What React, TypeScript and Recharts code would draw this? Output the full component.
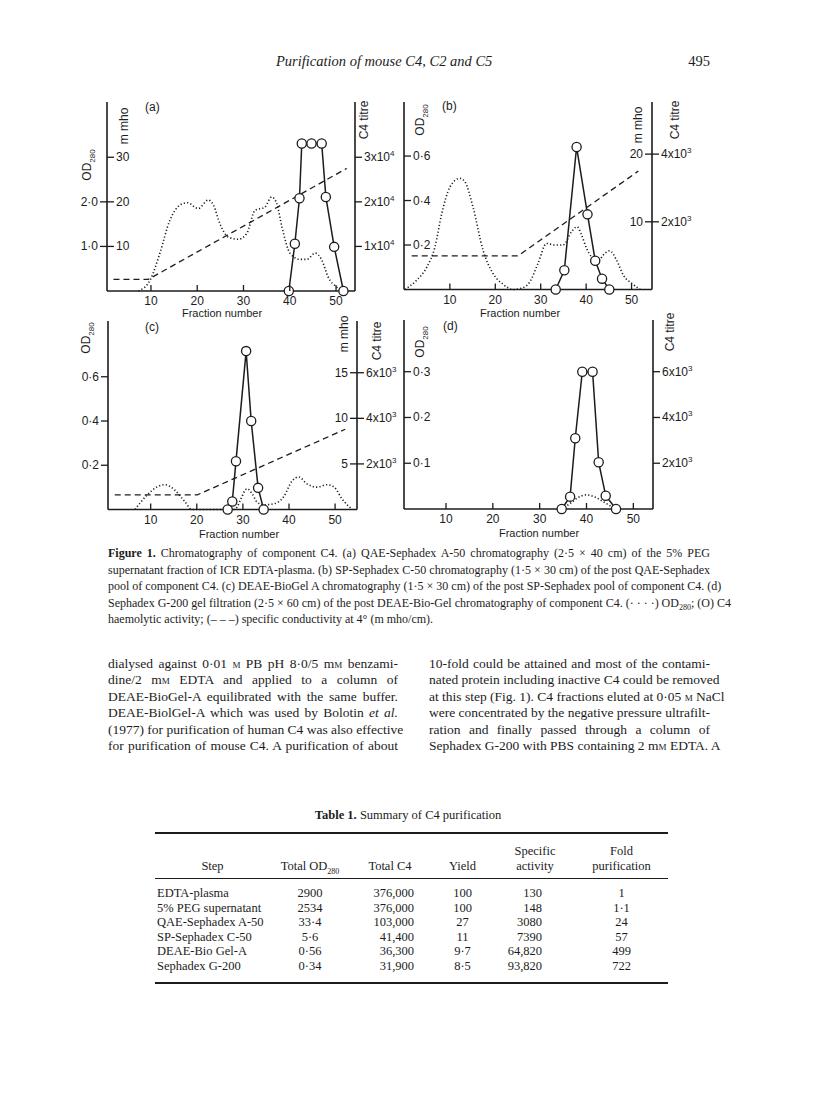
import React from "react"
import { ComposedChart, Line, XAxis, YAxis } from "recharts"

// [fraction number, value] pairs

// (a) QAE-Sephadex A-50
const aOd: [number, number][] = [
  [7.3, 0], [9.8, 0.24], [11.9, 0.84], [14.1, 1.59], [16.3, 1.93], [17.9, 1.98],
  [20.2, 1.85], [22.4, 2.04], [23.5, 1.93], [24.9, 1.51], [26.7, 1.21], [28.9, 1.16],
  [30.7, 1.29], [32.5, 1.81], [34.6, 1.88], [36.1, 2.11], [37.2, 1.96], [38.3, 1.44],
  [40.1, 0.84], [42.2, 0.71], [43.7, 0.71], [45.5, 0.85], [46.9, 0.7], [48.3, 0.31],
  [50.1, 0.09], [51.2, 0],
]
const aTitre: [number, number][] = [
  [39.8, 0], [41.1, 1.06], [42.1, 2.08], [42.6, 3.31], [44.7, 3.31], [46.9, 3.31],
  [47.8, 2.11], [49.6, 0.99], [51.6, 0],
] // x10^4
const aMmho: [number, number][] = [[1.9, 2.6], [9.4, 2.6], [52.3, 27.5]]

// (b) SP-Sephadex C-50
const bOd: [number, number][] = [
  [0.1, 0], [2.7, 0.042], [4.9, 0.1], [6.7, 0.19], [8.2, 0.34], [10, 0.46], [12.2, 0.5],
  [13.3, 0.485], [15.1, 0.37], [17.3, 0.177], [19.5, 0.072], [21.7, 0.024], [23.9, 0],
  [25.7, 0.005], [27.6, 0.034], [29.4, 0.117], [31.3, 0.207], [33.1, 0.2], [34.9, 0.2],
  [36.8, 0.26], [38, 0.282], [38.9, 0.25], [40.1, 0.185], [41.2, 0.147], [42.7, 0.132],
  [44.1, 0.162], [45.2, 0.174], [46.7, 0.132], [48.2, 0.064], [50.1, 0.027], [51.9, 0],
]
const bTitre: [number, number][] = [
  [33.3, 0], [35.2, 0.57], [37.9, 4.21], [40.3, 2.22], [42, 0.85], [43.5, 0.32], [45.1, 0],
] // x10^3
const bMmho: [number, number][] = [[1.6, 4.96], [25, 4.96], [51.5, 17.5]]

// (c) DEAE-BioGel A
const cOd: [number, number][] = [
  [6.6, 0], [9.1, 0.063], [11.3, 0.101], [13.1, 0.112], [15.3, 0.086], [17.5, 0.033],
  [18.9, 0], [28, 0], [28.7, 0.01], [29.4, 0.04], [30.9, 0.094], [32, 0.071], [33.1, 0.033],
  [34.5, 0.021], [36.7, 0.026], [38.8, 0.056], [40.7, 0.13], [42.1, 0.147], [43.9, 0.116],
  [46.1, 0.101], [48.3, 0.112], [49.8, 0.101], [51.5, 0.048], [53.7, 0],
]
const cTitre: [number, number][] = [
  [26.7, 0], [27.7, 0.35], [28.5, 2.12], [30.7, 6.95], [31.8, 3.88], [33.3, 0.95], [34.5, 0],
] // x10^3
const cMmho: [number, number][] = [[2.2, 1.6], [20.1, 1.6], [52.2, 8.8]]

// (d) Sephadex G-200
const dOd: [number, number][] = [
  [34.7, 0], [36.5, 0.012], [37.9, 0.023], [40, 0.031], [41.8, 0.026], [43.6, 0.016],
  [45.4, 0.005], [46.3, 0],
]
const dTitre: [number, number][] = [
  [34.7, 0], [36.5, 0.54], [37.6, 3.09], [39.1, 6], [41.3, 6], [42.6, 2.04], [44.1, 0.58],
  [46.3, 0],
] // x10^3

const fractionTicks = [10, 20, 30, 40, 50]

const ink = "#1c1c1c"
const figFont = "'Liberation Sans', Arial, sans-serif"
const pageFont = "'Liberation Serif', 'Times New Roman', serif"

// series are drawn on the panel's two printed axes; k converts to that axis' unit
const pts = (arr: [number, number][], k = 1) => arr.map(([f, v]) => ({ f, v: v * k }))

interface TickSpec {
  values: number[]
  inner?: string[]
  outer?: string[]
  sup?: string
}

interface Series {
  data: [number, number][]
  axis: "left" | "right"
  k: number
}

interface PanelSpec {
  box: { l: number; t: number; r: number; b: number }
  xDomain: [number, number]
  leftMax: number
  rightMax: number
  left: TickSpec
  right: TickSpec
  od: Series
  titre: Series
  mmho?: Series
}

const XTick = ({ x, y, payload }: any) => (
  <g>
    <line x1={x} y1={y} x2={x} y2={y - 6} stroke={ink} strokeWidth={1.3} />
    <text x={x} y={y + 14} textAnchor="middle" fontSize={12} fill={ink} fontFamily={figFont}>
      {payload.value}
    </text>
  </g>
)

function makeYTick(side: "left" | "right", spec: TickSpec) {
  return ({ x, y, payload }: any) => {
    const i = spec.values.findIndex((v) => Math.abs(v - payload.value) < 1e-9)
    const dir = side === "left" ? 1 : -1 // +1 points into the plot
    const inLabel = spec.inner ? spec.inner[i] : ""
    const outLabel = spec.outer ? spec.outer[i] : ""
    const x1 = outLabel ? x - dir * 7 : x
    const x2 = inLabel ? x + dir * 7 : x
    return (
      <g fontFamily={figFont} fontSize={12} fill={ink}>
        <line x1={x1} y1={y} x2={x2} y2={y} stroke={ink} strokeWidth={1.3} />
        {inLabel && (
          <text x={x + dir * 9} y={y + 4} textAnchor={side === "left" ? "start" : "end"}>
            {inLabel}
          </text>
        )}
        {outLabel && (
          <text x={x - dir * 9} y={y + 4} textAnchor={side === "left" ? "end" : "start"}>
            {outLabel}
            {spec.sup && (
              <tspan dy={-5} fontSize={8}>
                {spec.sup}
              </tspan>
            )}
          </text>
        )}
      </g>
    )
  }
}

const panels: PanelSpec[] = [
  {
    // left axis in m mho (OD280 = m mho / 10), right C4 titre x10^4
    box: { l: 107, t: 102, r: 355, b: 291 },
    xDomain: [0.5, 54.1],
    leftMax: 42.4,
    rightMax: 4.24,
    left: { values: [10, 20, 30], inner: ["10", "20", "30"], outer: ["1·0", "2·0", ""] },
    right: { values: [1, 2, 3], outer: ["1x10", "2x10", "3x10"], sup: "4" },
    od: { data: aOd, axis: "left", k: 10 },
    titre: { data: aTitre, axis: "right", k: 1 },
    mmho: { data: aMmho, axis: "left", k: 1 },
  },
  {
    // left OD280, right C4 titre x10^3 (m mho = titre x 5)
    box: { l: 404, t: 102, r: 652, b: 289.5 },
    xDomain: [-0.1, 54.5],
    leftMax: 0.843,
    rightMax: 5.54,
    left: { values: [0.2, 0.4, 0.6], inner: ["0·2", "0·4", "0·6"] },
    right: { values: [2, 4], inner: ["10", "20"], outer: ["2x10", "4x10"], sup: "3" },
    od: { data: bOd, axis: "left", k: 1 },
    titre: { data: bTitre, axis: "right", k: 1 },
    mmho: { data: bMmho, axis: "right", k: 0.2 },
  },
  {
    // left OD280, right C4 titre x10^3 (m mho = titre x 2.5)
    box: { l: 108, t: 321, r: 357, b: 509.5 },
    xDomain: [0.74, 54.75],
    leftMax: 0.852,
    rightMax: 8.27,
    left: { values: [0.2, 0.4, 0.6], outer: ["0·2", "0·4", "0·6"] },
    right: { values: [2, 4, 6], inner: ["5", "10", "15"], outer: ["2x10", "4x10", "6x10"], sup: "3" },
    od: { data: cOd, axis: "left", k: 1 },
    titre: { data: cTitre, axis: "right", k: 1 },
    mmho: { data: cMmho, axis: "right", k: 0.4 },
  },
  {
    box: { l: 404, t: 320, r: 653, b: 509 },
    xDomain: [1.03, 54.2],
    leftMax: 0.413,
    rightMax: 8.26,
    left: { values: [0.1, 0.2, 0.3], inner: ["0·1", "0·2", "0·3"] },
    right: { values: [2, 4, 6], outer: ["2x10", "4x10", "6x10"], sup: "3" },
    od: { data: dOd, axis: "left", k: 1 },
    titre: { data: dTitre, axis: "right", k: 1 },
  },
]

const axisLine = { stroke: ink, strokeWidth: 1.6 }

function Panel({ spec }: { spec: PanelSpec }) {
  const { l, t, r, b } = spec.box
  // outer room around the plot box; each visible axis takes 1px of it
  const room = { top: 12, right: 60, bottom: 36, left: 50 }
  const m = { top: room.top, right: room.right - 1, bottom: room.bottom - 1, left: room.left - 1 }
  const w = r - l + room.left + room.right
  const h = b - t + room.top + room.bottom
  return (
    <div style={{ position: "absolute", left: l - room.left, top: t - room.top }}>
      <ComposedChart width={w} height={h} margin={m}>
        <XAxis
          type="number"
          dataKey="f"
          domain={spec.xDomain}
          ticks={fractionTicks}
          interval={0}
          height={1}
          tickSize={0}
          tickMargin={0}
          tickLine={false}
          axisLine={axisLine}
          tick={XTick}
        />
        <YAxis
          yAxisId="left"
          type="number"
          domain={[0, spec.leftMax]}
          ticks={spec.left.values}
          interval={0}
          width={1}
          tickSize={0}
          tickMargin={0}
          tickLine={false}
          axisLine={axisLine}
          tick={makeYTick("left", spec.left)}
        />
        <YAxis
          yAxisId="right"
          orientation="right"
          type="number"
          domain={[0, spec.rightMax]}
          ticks={spec.right.values}
          interval={0}
          width={1}
          tickSize={0}
          tickMargin={0}
          tickLine={false}
          axisLine={axisLine}
          tick={makeYTick("right", spec.right)}
        />
        {spec.mmho && (
          <Line
            yAxisId={spec.mmho.axis}
            data={pts(spec.mmho.data, spec.mmho.k)}
            dataKey="v"
            type="linear"
            stroke={ink}
            strokeWidth={1.3}
            strokeDasharray="6 4"
            dot={false}
            isAnimationActive={false}
          />
        )}
        <Line
          yAxisId={spec.od.axis}
          data={pts(spec.od.data, spec.od.k)}
          dataKey="v"
          type="monotone"
          stroke={ink}
          strokeWidth={1.6}
          strokeDasharray="1.2 2.2"
          dot={false}
          isAnimationActive={false}
        />
        <Line
          yAxisId={spec.titre.axis}
          data={pts(spec.titre.data, spec.titre.k)}
          dataKey="v"
          type="linear"
          stroke={ink}
          strokeWidth={1.5}
          dot={{ r: 4.6, fill: "#fff", stroke: ink, strokeWidth: 1.3 }}
          isAnimationActive={false}
        />
      </ComposedChart>
    </div>
  )
}

const OD = () => (
  <span>
    OD<sub style={{ fontSize: 8 }}>280</sub>
  </span>
)

function VLabel({ x, y, children }: { x: number; y: number; children: React.ReactNode }) {
  return (
    <div
      style={{
        position: "absolute",
        left: x,
        top: y,
        transform: "translate(-50%, -50%) rotate(-90deg)",
        whiteSpace: "nowrap",
        fontFamily: figFont,
        fontSize: 12,
        color: ink,
        lineHeight: "12px",
      }}
    >
      {children}
    </div>
  )
}

function Txt({ x, y, children, size = 12, center = false }: any) {
  return (
    <div
      style={{
        position: "absolute",
        left: x,
        top: y,
        transform: center ? "translate(-50%, -50%)" : "translate(0, -50%)",
        whiteSpace: "nowrap",
        fontFamily: figFont,
        fontSize: size,
        color: ink,
        lineHeight: "12px",
      }}
    >
      {children}
    </div>
  )
}

const SC = ({ children }: { children: React.ReactNode }) => (
  <span style={{ fontVariant: "small-caps" }}>{children}</span>
)

function JLine({ children, last = false }: { children: React.ReactNode; last?: boolean }) {
  return (
    <div style={{ textAlign: "justify", textAlignLast: last ? "left" : "justify", whiteSpace: "nowrap" }}>
      {children}
    </div>
  )
}

const tableCols = [115, 80, 80, 65, 80, 93]
const tableSteps = [
  "EDTA-plasma",
  "5% PEG supernatant",
  "QAE-Sephadex A-50",
  "SP-Sephadex C-50",
  "DEAE-Bio Gel-A",
  "Sephadex G-200",
]
const tableOd = ["2900", "2534", "33·4", "5·6", "0·56", "0·34"]
const tableC4 = ["376,000", "376,000", "103,000", "41,400", "36,300", "31,900"]
const tableYield = ["100", "100", "27", "11", "9·7", "8·5"]
const tableActivity = ["130", "148", "3080", "7390", "64,820", "93,820"]
const tableFold = ["1", "1·1", "24", "57", "499", "722"]

function Cell({ w, align, pad = 0, children }: any) {
  return (
    <div
      style={{
        width: w,
        textAlign: align,
        paddingLeft: align === "left" ? pad : 0,
        paddingRight: align === "right" ? pad : 0,
        boxSizing: "border-box",
        whiteSpace: "nowrap",
      }}
    >
      {children}
    </div>
  )
}

function Row({ y, cells, header = false }: { y: number; cells: React.ReactNode[]; header?: boolean }) {
  const aligns = header
    ? ["center", "center", "center", "center", "center", "center"]
    : ["left", "center", "right", "center", "right", "center"]
  const pads = [2, 0, 16, 0, 33, 0]
  return (
    <div style={{ position: "absolute", left: 155, top: y - 8, height: 16, display: "flex", lineHeight: "16px" }}>
      {cells.map((c, i) => (
        <Cell key={i} w={tableCols[i]} align={aligns[i]} pad={pads[i]}>
          {c}
        </Cell>
      ))}
    </div>
  )
}

export default function App() {
  return (
    <div
      style={{
        position: "absolute",
        left: 0,
        top: 0,
        width: 816,
        height: 1104,
        background: "#fff",
        color: ink,
        fontFamily: pageFont,
        overflow: "hidden",
      }}
    >
      {/* running head */}
      <div style={{ position: "absolute", left: 276, top: 53, fontSize: 14.5, fontStyle: "italic", whiteSpace: "nowrap" }}>
        Purification of mouse C4, C2 and C5
      </div>
      <div style={{ position: "absolute", right: 106, top: 53, fontSize: 14.5, whiteSpace: "nowrap" }}>495</div>

      {panels.map((p, i) => (
        <Panel key={i} spec={p} />
      ))}

      {/* axis titles and panel tags */}
      <VLabel x={90} y={165}><OD /></VLabel>
      <VLabel x={124} y={126}>m mho</VLabel>
      <VLabel x={364} y={120}>C4 titre</VLabel>
      <Txt x={145} y={107}>(a)</Txt>
      <Txt x={222} y={313} size={11} center>Fraction number</Txt>

      <VLabel x={423} y={120}><OD /></VLabel>
      <VLabel x={638} y={125}>m mho</VLabel>
      <VLabel x={675} y={120}>C4 titre</VLabel>
      <Txt x={442} y={106}>(b)</Txt>
      <Txt x={520} y={313} size={11} center>Fraction number</Txt>

      <VLabel x={89} y={338}><OD /></VLabel>
      <VLabel x={344} y={334}>m mho</VLabel>
      <VLabel x={377} y={341}>C4 titre</VLabel>
      <Txt x={145} y={327}>(c)</Txt>
      <Txt x={239} y={534} size={11} center>Fraction number</Txt>

      <VLabel x={423} y={342}><OD /></VLabel>
      <VLabel x={670} y={332}>C4 titre</VLabel>
      <Txt x={443} y={326}>(d)</Txt>
      <Txt x={539} y={533} size={11} center>Fraction number</Txt>

      {/* caption */}
      <div style={{ position: "absolute", left: 108, top: 545, width: 602, fontSize: 12, lineHeight: "16.5px" }}>
        <JLine>
          <b>Figure 1.</b> Chromatography of component C4. (a) QAE-Sephadex A-50 chromatography (2·5 × 40 cm) of the 5% PEG
        </JLine>
        <JLine>
          supernatant fraction of ICR EDTA-plasma. (b) SP-Sephadex C-50 chromatography (1·5 × 30 cm) of the post QAE-Sephadex
        </JLine>
        <JLine>
          pool of component C4. (c) DEAE-BioGel A chromatography (1·5 × 30 cm) of the post SP-Sephadex pool of component C4. (d)
        </JLine>
        <JLine>
          Sephadex G-200 gel filtration (2·5 × 60 cm) of the post DEAE-Bio-Gel chromatography of component C4. (· · · ·) OD
          <sub style={{ fontSize: 8, lineHeight: 0 }}>280</sub>; (O) C4
        </JLine>
        <JLine last>haemolytic activity; (– – –) specific conductivity at 4° (m mho/cm).</JLine>
      </div>

      {/* body text */}
      <div style={{ position: "absolute", left: 108, top: 656, width: 290, fontSize: 13.5, lineHeight: "16.4px" }}>
        <JLine>
          dialysed against 0·01 <SC>m</SC> PB pH 8·0/5 m<SC>m</SC> benzami-
        </JLine>
        <JLine>
          dine/2 m<SC>m</SC> EDTA and applied to a column of
        </JLine>
        <JLine>DEAE-BioGel-A equilibrated with the same buffer.</JLine>
        <JLine>
          DEAE-BiolGel-A which was used by Bolotin <i>et al.</i>
        </JLine>
        <JLine>(1977) for purification of human C4 was also effective</JLine>
        <JLine>for purification of mouse C4. A purification of about</JLine>
      </div>
      <div style={{ position: "absolute", left: 429, top: 656, width: 281, fontSize: 13.5, lineHeight: "16.4px" }}>
        <JLine>10-fold could be attained and most of the contami-</JLine>
        <JLine>nated protein including inactive C4 could be removed</JLine>
        <JLine>
          at this step (Fig. 1). C4 fractions eluted at 0·05 <SC>m</SC> NaCl
        </JLine>
        <JLine>were concentrated by the negative pressure ultrafilt-</JLine>
        <JLine>ration and finally passed through a column of</JLine>
        <JLine>
          Sephadex G-200 with PBS containing 2 m<SC>m</SC> EDTA. A
        </JLine>
      </div>

      {/* table */}
      <div style={{ position: "absolute", left: 0, width: 816, top: 808, textAlign: "center", fontSize: 12.5, whiteSpace: "nowrap" }}>
        <b>Table 1.</b> Summary of C4 purification
      </div>
      <div style={{ position: "absolute", left: 155, top: 832, width: 513, height: 1.5, background: ink }} />
      <div style={{ fontSize: 12.5 }}>
        <Row y={851} header cells={["", "", "", "", "Specific", "Fold"]} />
        <Row
          y={866}
          header
          cells={[
            "Step",
            <span>
              Total OD<sub style={{ fontSize: 8 }}>280</sub>
            </span>,
            "Total C4",
            "Yield",
            "activity",
            "purification",
          ]}
        />
      </div>
      <div style={{ position: "absolute", left: 155, top: 878, width: 513, height: 1, background: ink }} />
      <div style={{ fontSize: 12.5 }}>
        {tableSteps.map((s, i) => (
          <Row
            key={s}
            y={893 + i * 14.5}
            cells={[s, tableOd[i], tableC4[i], tableYield[i], tableActivity[i], tableFold[i]]}
          />
        ))}
      </div>
      <div style={{ position: "absolute", left: 155, top: 982, width: 513, height: 1.5, background: ink }} />
    </div>
  )
}
